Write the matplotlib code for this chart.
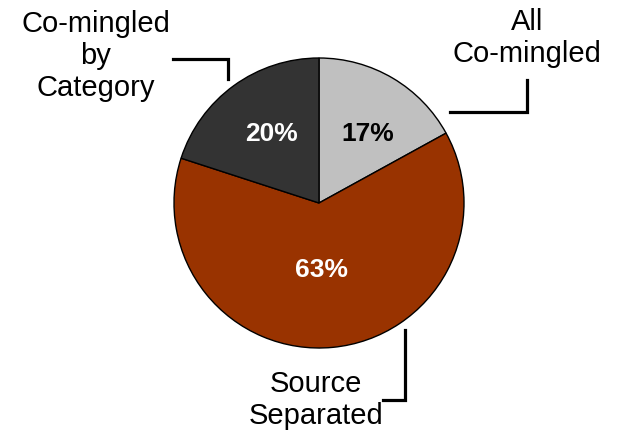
import matplotlib
matplotlib.use("Agg")
import matplotlib.pyplot as plt

categories = ["All\nCo-mingled", "Source\nSeparated", "Co-mingled\nby\nCategory"]
values = [17, 63, 20]
colors = ["#C0C0C0", "#993300", "#333333"]
pct_colors = ["black", "white", "white"]

W, H = 619, 436
fig = plt.figure(figsize=(W / 100, H / 100), dpi=100)
ax = fig.add_axes([0, 0, 1, 1])

cx, cy, r = 319, H - 203, 145
wedges, texts, autotexts = ax.pie(
    values, colors=colors, startangle=90, counterclock=False,
    center=(cx, cy), radius=r, autopct="%d%%", pctdistance=0.55,
    wedgeprops=dict(edgecolor="black", linewidth=1.0),
    textprops=dict(fontsize=19, fontweight="bold", family="Liberation Sans"),
    frame=True,
)
ax.set_xlim(0, W)
ax.set_ylim(0, H)
ax.set_aspect("equal")
ax.axis("off")
for t, c in zip(autotexts, pct_colors):
    t.set_color(c)
    t.set_va("center")
    t.set_ha("center")
pct_pos = [(368, 134), (321, 270), (271, 134)]
for t, (x, y) in zip(autotexts, pct_pos):
    t.set_position((x, H - y))

font = dict(fontsize=21, family="Liberation Sans", ha="center", va="center",
            linespacing=1.2)
ax.text(527, H - 38, categories[0], **font)
ax.text(316, H - 400, categories[1], **font)
ax.text(96, H - 56, categories[2], **font)

lw = 2.3
ax.plot([450, 527, 527], [H - 112, H - 112, H - 80], color="black", lw=lw,
        solid_joinstyle="miter")
ax.plot([383, 405, 405], [H - 400, H - 400, H - 330], color="black", lw=lw,
        solid_joinstyle="miter")
ax.plot([173, 228, 228], [H - 59, H - 59, H - 79], color="black", lw=lw,
        solid_joinstyle="miter")

fig.savefig("out.png", dpi=100, facecolor="white")
